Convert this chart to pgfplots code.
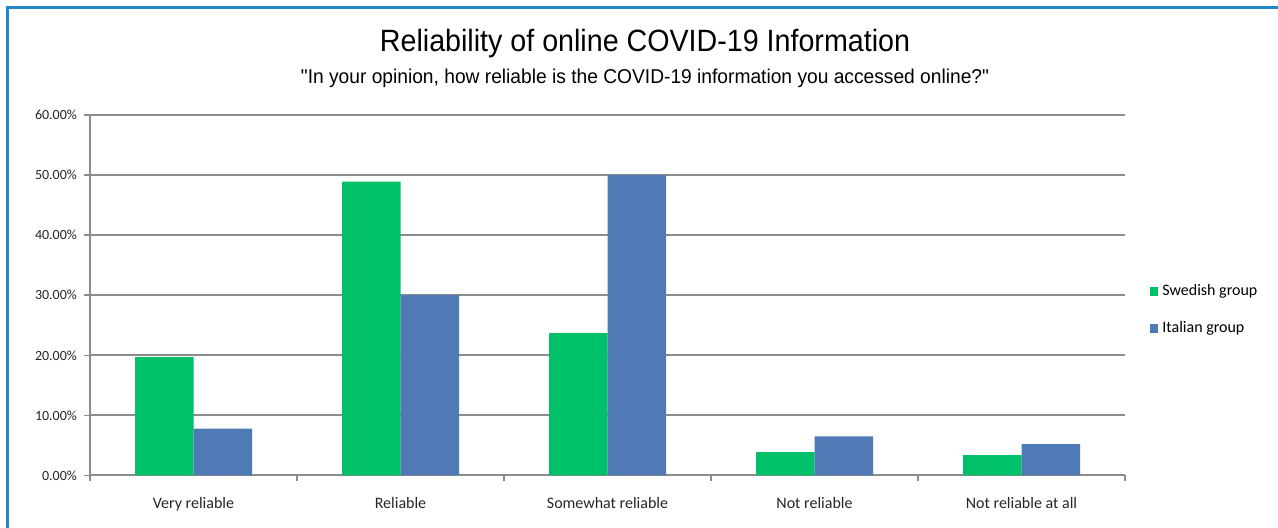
\documentclass[border=0pt]{standalone}
\usepackage{fontspec}
\usepackage{pgfplots}
\pgfplotsset{compat=1.18}
\setmainfont{Carlito}
\newfontfamily\titlefont[FakeStretch=0.93]{Liberation Sans}
\newfontfamily\subfont[FakeStretch=0.96]{Liberation Sans}
\definecolor{swed}{RGB}{0,192,106}
\definecolor{ital}{RGB}{79,122,181}
\definecolor{framecol}{RGB}{30,136,200}
\definecolor{gridgray}{RGB}{140,140,140}

\begin{document}
\begin{tikzpicture}
\fill[white] (0pt,0pt) rectangle (639pt,264pt);
\draw[framecol, line width=1.5pt] (3.75pt,0pt) -- (3.75pt,260.25pt) -- (639pt,260.25pt);
\node[anchor=base, font=\titlefont\fontsize{15.4}{17}\selectfont] at (322.5pt,238.2pt) {Reliability of online COVID-19 Information};
\node[anchor=base, font=\subfont\fontsize{10}{12}\selectfont] at (322.5pt,222.3pt) {"In your opinion, how reliable is the COVID-19 information you accessed online?"};
% categories sit at 0.5, 1.5, ... so that the data origin is the lower-left corner
\begin{axis}[
  at={(45pt,26.25pt)}, anchor=origin,
  width=517.5pt, height=180.25pt, scale only axis,
  xmin=0, xmax=5, ymin=0, ymax=60,
  ybar=0pt, bar width=29.25pt,
  axis x line*=bottom, axis y line*=left,
  axis line style={-, gridgray, line width=1pt},
  xtick={0.5,1.5,2.5,3.5,4.5},
  xticklabels={Very reliable, Reliable, Somewhat reliable, Not reliable, Not reliable at all},
  major x tick style={draw=none},
  minor xtick={0,1,2,3,4,5},
  tick align=outside,
  major tick length=3pt, minor tick length=3pt,
  tick style={gridgray, line width=0.8pt},
  ytick={0,10,...,60},
  /pgf/number format/assume math mode=true,
  yticklabel={\pgfmathprintnumber[fixed,fixed zerofill,precision=2,assume math mode=true]{\tick}\%},
  ymajorgrids, grid style={gridgray, line width=1pt},
  y tick label style={font=\fontsize{7}{8}\selectfont, text=black!85},
  x tick label style={font=\fontsize{8}{9}\selectfont, text=black!85, yshift=-4.5pt},
  legend style={at={(rel axis cs:1.0176,0.459)}, anchor=west, draw=none, fill=none,
    font=\fontsize{8}{9}\selectfont, row sep=7.3pt, legend cell align=left},
  legend image code/.code={\fill[#1] (0pt,-2.2pt) rectangle (4.4pt,2.2pt);},
]
\addplot[fill=swed, draw=none] coordinates {(0.5,19.7) (1.5,48.9) (2.5,23.7) (3.5,3.9) (4.5,3.4)};
\addplot[fill=ital, draw=none] coordinates {(0.5,7.8) (1.5,30.0) (2.5,50.0) (3.5,6.5) (4.5,5.2)};
\legend{Swedish group, Italian group}
\end{axis}
\pgfresetboundingbox
\path[use as bounding box] (0pt,0pt) rectangle (639pt,264pt);
\end{tikzpicture}
\end{document}
